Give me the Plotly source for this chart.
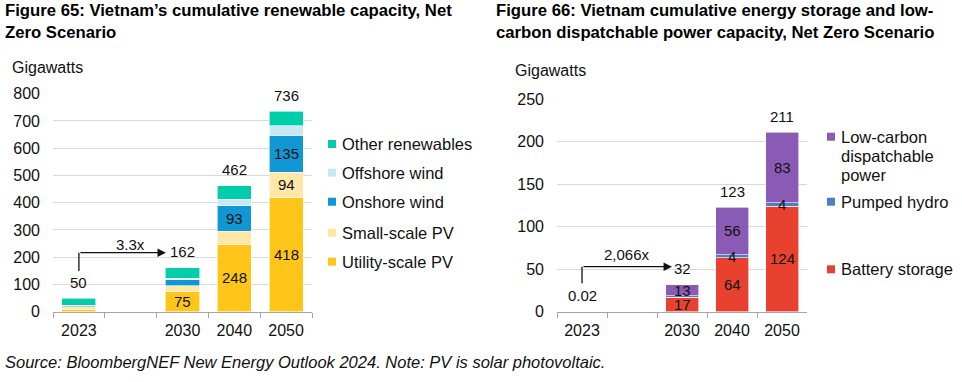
import plotly.graph_objects as go

FONT = "Liberation Sans, Arial, sans-serif"
W, H = 962, 382

# ---------------- data ----------------
years = ["2023", " ", "2030", "2040", "2050"]

# Figure 65: cumulative renewable capacity (GW)
utility_pv = [9, None, 75, 248, 418]
small_pv = [10, None, 20, 48, 94]
onshore_wind = [4, None, 22, 93, 135]
offshore_wind = [1, None, 5, 23, 36]
other_renew = [26, None, 40, 50, 53]
re_names = ["Utility-scale PV", "Small-scale PV", "Onshore wind", "Offshore wind", "Other renewables"]
re_colors = ["#FFC519", "#FFE7A6", "#1297D5", "#C8E8F7", "#00CDAA"]
re_labelled = [["2030", "2040", "2050"], ["2050"], ["2040", "2050"], [], []]
re_growth = "3.3x"

# Figure 66: cumulative storage & low-carbon dispatchable (GW)
battery = [0.02, None, 17.3, 63.7, 124.2]
pumped_hydro = [0, None, 1.3, 3.6, 3.9]
low_carbon = [0, None, 13.2, 55.8, 82.9]
st_names = ["Battery storage", "Pumped hydro", "Low-carbon dispatchable power"]
st_colors = ["#E8412F", "#4A80C4", "#8A5BB5"]
st_labelled = [["2030", "2040", "2050"], ["2040", "2050"], ["2030", "2040", "2050"]]
st_growth = "2,066x"

titles = [
    ["Figure 65: Vietnam\u2019s cumulative renewable capacity, Net", "Zero Scenario"],
    ["Figure 66: Vietnam cumulative energy storage and low-", "carbon dispatchable power capacity, Net Zero Scenario"],
]
source = "Source: BloombergNEF New Energy Outlook 2024. Note: PV is solar photovoltaic."
unit = "Gigawatts"


def px(x):
    return x / W


def py(y):
    return 1 - y / H


fig = go.Figure()
annotations = []
shapes = []


def add_chart(series, names, colors, labelled, xref, yref, label_fmt):
    n = len(years)
    base = [0] * n
    for vals, name, col, lab in zip(series, names, colors, labelled):
        fig.add_trace(go.Bar(
            x=years, y=vals, name=name, marker=dict(color=col, line=dict(color="white", width=0.6)),
            xaxis=xref, yaxis=yref, showlegend=False, hoverinfo="skip"))
        for i, v in enumerate(vals):
            if v is None:
                continue
            if years[i] in lab:
                annotations.append(dict(
                    x=i, y=base[i] + v / 2, xref=xref, yref=yref, text=str(round(v)),
                    showarrow=False, font=dict(size=15, color="#111111", family=FONT)))
            base[i] += v
    totals = []
    for i in range(n):
        if years[i].strip() == "":
            totals.append(None)
            continue
        t = base[i]
        totals.append(t)
        annotations.append(dict(
            x=i, y=t, xref=xref, yref=yref, text=label_fmt(t), yshift=16,
            showarrow=False, font=dict(size=15, color="#111111", family=FONT)))
    return totals


def fmt(t):
    return f"{t:.2f}" if t < 1 else f"{round(t)}"


re_tot = add_chart([utility_pv, small_pv, onshore_wind, offshore_wind, other_renew],
                   re_names, re_colors, re_labelled, "x", "y", fmt)
st_tot = add_chart([battery, pumped_hydro, low_carbon],
                   st_names, st_colors, st_labelled, "x2", "y2", fmt)


def add_growth_arrow(xref, yref, y0, y1, xtip, text, xtext, tshift):
    shapes.append(dict(type="line", xref=xref, yref=yref, x0=0, x1=0, y0=y0, y1=y1,
                       line=dict(color="#111111", width=1.3)))
    annotations.append(dict(x=xtip, y=y1, ax=0, ay=y1, xref=xref, yref=yref, axref=xref, ayref=yref,
                            text="", showarrow=True, arrowhead=2, arrowsize=1.3, arrowwidth=1.3,
                            arrowcolor="#111111", standoff=0, startstandoff=0))
    annotations.append(dict(x=xtext, y=y1, xref=xref, yref=yref, text=text, yshift=tshift,
                            showarrow=False, font=dict(size=15, color="#111111", family=FONT)))


# arrows spanning from the 2023 total label up to the 2030 total label height
add_growth_arrow("x", "y", re_tot[0] + 99, re_tot[2] + 54.5, 1.68, re_growth, 1.0, 8)
add_growth_arrow("x2", "y2", st_tot[0] + 33.4, st_tot[2] + 21.2, 1.8, st_growth, 0.9, 12)

# titles
for tlines, x0 in zip(titles, [3, 494]):
    for k, line in enumerate(tlines):
        annotations.append(dict(x=px(x0), y=py(11 + 22 * k), xref="paper", yref="paper", xanchor="left",
                                yanchor="middle", text=f"<b>{line}</b>", showarrow=False,
                                font=dict(size=16.7, color="#000000", family=FONT)))

# unit labels
for x0, y0 in [(10, 67), (513, 70)]:
    annotations.append(dict(x=px(x0), y=py(y0), xref="paper", yref="paper", xanchor="left", yanchor="middle",
                            text=unit, showarrow=False, font=dict(size=16, color="#111111", family=FONT)))

# legends (custom placement)
re_leg_y = [144, 172.7, 201.7, 232.7, 261.7]
for name, col, yy in zip(re_names[::-1], re_colors[::-1], re_leg_y):
    shapes.append(dict(type="rect", xref="paper", yref="paper", x0=px(328), x1=px(336), y0=py(yy + 4),
                       y1=py(yy - 4), fillcolor=col, line=dict(width=0)))
    annotations.append(dict(x=px(340), y=py(yy), xref="paper", yref="paper", xanchor="left", yanchor="middle",
                            text=name, showarrow=False, font=dict(size=16.5, color="#111111", family=FONT)))

st_leg = [(st_names[2], st_colors[2], 136.7, ["Low-carbon", "dispatchable", "power"]),
          (st_names[1], st_colors[1], 201.7, [st_names[1]]),
          (st_names[0], st_colors[0], 269.3, [st_names[0]])]
for name, col, yy, lines in st_leg:
    shapes.append(dict(type="rect", xref="paper", yref="paper", x0=px(827), x1=px(835), y0=py(yy + 4),
                       y1=py(yy - 4), fillcolor=col, line=dict(width=0)))
    for k, ln in enumerate(lines):
        annotations.append(dict(x=px(839), y=py(yy + 19.3 * k), xref="paper", yref="paper", xanchor="left",
                                yanchor="middle", text=ln, showarrow=False,
                                font=dict(size=16.5, color="#111111", family=FONT)))

# source
annotations.append(dict(x=px(3), y=py(362), xref="paper", yref="paper", xanchor="left", yanchor="middle",
                        text=f"<i>{source}</i>", showarrow=False,
                        font=dict(size=16.5, color="#111111", family=FONT)))

xcommon = dict(type="category", range=[-0.5, 4.5], autorange=False, showgrid=False, showline=True,
               linecolor="#A6A6A6", linewidth=1, tickangle=0, automargin=False, ticklabelstandoff=4,
               ticks="outside", tickson="boundaries", ticklen=5, tickcolor="#A6A6A6",
               tickfont=dict(size=16, color="#111111", family=FONT), zeroline=False, fixedrange=True)
ycommon = dict(showgrid=True, gridcolor="#D9D9D9", gridwidth=1, zeroline=False, showline=False,
               ticks="", ticklabelstandoff=12, tickfont=dict(size=16, color="#111111", family=FONT),
               fixedrange=True, automargin=False)

fig.update_layout(
    template="none",
    width=W, height=H, autosize=False,
    margin=dict(l=0, r=0, t=0, b=0, pad=0),
    paper_bgcolor="white", plot_bgcolor="white",
    barmode="stack", bargap=0.34,
    showlegend=False,
    xaxis=dict(domain=[px(53), px(312)], anchor="y", **xcommon),
    yaxis=dict(domain=[py(311.7), py(93.7)], range=[0, 800], dtick=100, anchor="x", **ycommon),
    xaxis2=dict(domain=[px(557), px(807)], anchor="y2", **xcommon),
    yaxis2=dict(domain=[py(311.7), py(99.3)], range=[0, 250], dtick=50, anchor="x2", **ycommon),
    annotations=annotations,
    shapes=shapes,
    font=dict(family=FONT),
)

fig.write_html(
    "out.html",
    config={"displayModeBar": False, "responsive": False},
    post_script=("document.documentElement.style.margin='0';document.body.style.margin='0';"
                 "document.body.style.overflow='hidden';"),
)
